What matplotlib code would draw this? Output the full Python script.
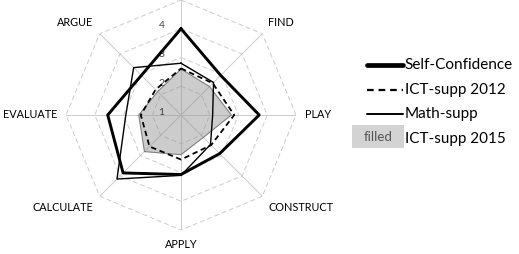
import numpy as np
import matplotlib
matplotlib.use('Agg')
import matplotlib.pyplot as plt
from matplotlib.lines import Line2D
from matplotlib.patches import Rectangle

# axes go clockwise from the top; the top label is cut off in the source
categories = ['', 'FIND', 'PLAY', 'CONSTRUCT', 'APPLY', 'CALCULATE', 'EVALUATE', 'ARGUE']
self_conf = [4.0, 2.95, 3.72, 2.9, 3.07, 3.85, 3.55, 2.95]
ict_2012 = [2.62, 2.56, 2.85, 2.48, 2.55, 2.55, 2.4, 2.25]
math_supp = [2.8, 2.6, 2.1, 2.45, 3.1, 4.15, 2.92, 3.33]
ict_2015 = [2.6, 2.4, 2.75, 2.1, 2.38, 2.8, 2.47, 2.15]
rings = [1, 2, 3, 4, 5]

plt.rcParams['font.family'] = ['Lato', 'DejaVu Sans']

fig = plt.figure(figsize=(5.19, 2.54), dpi=100)
ax = fig.add_axes([0.1272, 0.0945, 0.4432, 0.9055], projection='polar')
ax.set_theta_offset(np.pi / 2)
ax.set_theta_direction(-1)
ax.set_ylim(1, 5)
ax.grid(False)
ax.set_xticks([])
ax.set_yticks([])
ax.spines['polar'].set_visible(False)
ax.patch.set_visible(False)

n = len(categories)
ang = np.linspace(0, 2 * np.pi, n, endpoint=False)
ang_c = np.append(ang, ang[0])


def closed(v):
    return np.append(v, v[0])


# octagon rings and spokes
for r in rings[1:]:
    ax.plot(ang_c, [r] * (n + 1), color='#cccccc', lw=0.7, ls=(0, (5, 3)), zorder=1)
for a in ang:
    ax.plot([a, a], [1, 5], color='#cccccc', lw=0.7, zorder=1)

# tick labels left of the top spoke (the 5 sits on the top edge, as in the source)
for r in rings:
    ax.annotate(str(r), (0, r), xytext=(-14, 2), textcoords='offset points',
                ha='center', va='center', fontsize=7.5, color='#404040',
                annotation_clip=False)

ax.fill(ang_c, closed(ict_2015), facecolor='#8f8f8f', alpha=0.45,
        edgecolor='none', zorder=2)
ax.plot(ang_c, closed(ict_2015), color='#808080', lw=0.8, zorder=2)
ax.plot(ang_c, closed(ict_2012), color='black', lw=1.3, ls=(0, (3, 2)), zorder=3)
ax.plot(ang_c, closed(math_supp), color='black', lw=1.0, zorder=3)
ax.plot(ang_c, closed(self_conf), color='black', lw=2.1, zorder=4)

for a, lab in zip(ang, categories):
    s, c = np.sin(a), np.cos(a)
    ha = 'center' if abs(s) < 0.1 else ('left' if s > 0 else 'right')
    va = 'center' if abs(c) < 0.1 else ('bottom' if c > 0 else 'top')
    ax.text(a, 5.3, lab, ha=ha, va=va, fontsize=7.8, color='black')

# legend drawn by hand
rows = [0.744, 0.646, 0.551, 0.453]
x0, x1, xt = 0.707, 0.776, 0.780
fig.add_artist(Line2D([x0, x1], [rows[0]] * 2, color='black', lw=3.4,
                      solid_capstyle='round'))
fig.add_artist(Line2D([x0, x1], [rows[1]] * 2, color='black', lw=1.6,
                      ls=(0, (3, 2.2))))
fig.add_artist(Line2D([x0, x1], [rows[2]] * 2, color='black', lw=1.4,
                      solid_capstyle='round'))
fig.add_artist(Rectangle((0.678, 0.417), 0.1, 0.091, facecolor='#d3d3d3',
                         edgecolor='none', transform=fig.transFigure))
fig.text(0.728, 0.4625, 'filled', ha='center', va='center', fontsize=9.5,
         color='#555555')
for y, lab in zip(rows, ['Self-Confidence', 'ICT-supp 2012', 'Math-supp',
                         'ICT-supp 2015']):
    fig.text(xt, y, lab, ha='left', va='center', fontsize=11, color='black')

fig.savefig('out.png', dpi=100)
